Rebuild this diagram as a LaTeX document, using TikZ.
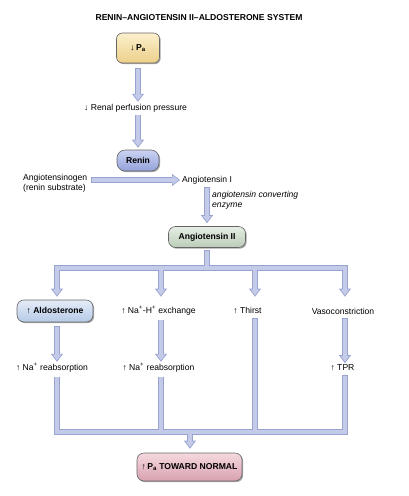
\documentclass[tikz,border=0pt]{standalone}
\usepackage{fontspec}
\setmainfont{Liberation Sans}
\usetikzlibrary{arrows.meta,calc,shadows}
\definecolor{pipefill}{HTML}{C3CBE9}
\definecolor{pipeline}{HTML}{98A3D2}
\definecolor{paT}{HTML}{FBEFCB}\definecolor{paB}{HTML}{EDD08A}
\definecolor{reT}{HTML}{CBD3F2}\definecolor{reB}{HTML}{93A2DA}
\definecolor{agT}{HTML}{E6EEE4}\definecolor{agB}{HTML}{BACCB8}
\definecolor{alT}{HTML}{E4ECF8}\definecolor{alB}{HTML}{B6CAE7}
\definecolor{fiT}{HTML}{F5D9DF}\definecolor{fiB}{HTML}{D8A0AF}
\newcommand\parrow[2]{%
  \draw[pipeo,->] #1 -- #2;
  \draw[pipei,shorten <=0.6pt,shorten >=7pt] #1 -- #2;}
\newcommand\myup{{\bfseries ↑}}
\newcommand\mydown{{\bfseries ↓}}
\begin{document}
\begin{tikzpicture}[x=1pt,y=-1pt,
  font=\fontsize{8.6}{9.8}\selectfont,
  >={Triangle[length=8pt,width=12pt,line width=0.7pt,fill=pipefill]},
  box/.style={draw=black!60,line width=0.6pt,rounded corners=6pt,
    font=\fontsize{8.6}{9.8}\selectfont\bfseries,inner sep=2pt,
    drop shadow={shadow xshift=1.2pt,shadow yshift=-1.2pt,opacity=0.35,fill=black}},
  txt/.style={inner sep=1pt},
  pipeo/.style={draw=pipeline,line width=6pt,line join=miter},
  pipei/.style={draw=pipefill,line width=4.4pt,line join=miter}]
\useasboundingbox (0,0) rectangle (409,496);
% title
\node[txt,font=\fontsize{8.6}{9.8}\selectfont\bfseries] (title) at (199,18) {RENIN–ANGIOTENSIN II–ALDOSTERONE SYSTEM};
% nodes
\node[box,top color=paT,bottom color=paB,minimum width=43pt,minimum height=30pt] (pa) at (138,48) {↓\,P\textsubscript{a}};
\node[txt,anchor=west] (rpp) at (83,108) {\mydown\ Renal perfusion pressure};
\node[box,top color=reT,bottom color=reB,minimum width=42pt,minimum height=21pt,rounded corners=8pt] (renin) at (138,160.5) {Renin};
\node[txt,anchor=north west,align=left] (agn) at (22,173.5) {Angiotensinogen\\(renin substrate)};
\node[txt,anchor=west] (ang1) at (181,180) {Angiotensin I};
\node[txt,anchor=north west,align=left,font=\fontsize{8.6}{9.8}\selectfont\itshape] (ace) at (211,190.5) {angiotensin converting\\enzyme};
\node[box,top color=agT,bottom color=agB,minimum width=77pt,minimum height=21pt,rounded corners=7pt] (ang2) at (207,237) {Angiotensin II};
\node[box,top color=alT,bottom color=alB,minimum width=76pt,minimum height=22pt,rounded corners=7pt] (aldo) at (55,311) {↑ Aldosterone};
\node[txt] (nah) at (158.5,311) {\myup\ Na\textsuperscript{+}-H\textsuperscript{+} exchange};
\node[txt] (thirst) at (247.5,311) {\myup\ Thirst};
\node[txt] (vaso) at (343,311) {Vasoconstriction};
\node[txt] (nar1) at (52,368) {\myup\ Na\textsuperscript{+} reabsorption};
\node[txt] (nar2) at (158.5,368) {\myup\ Na\textsuperscript{+} reabsorption};
\node[txt] (tpr) at (342.5,368) {\myup\ TPR};
\node[box,top color=fiT,bottom color=fiB,minimum width=105pt,minimum height=28pt,rounded corners=7pt] (fin) at (189.5,467) {↑\,P\textsubscript{a} TOWARD NORMAL};
% junction coordinates
\coordinate (j0) at (207,268);
\coordinate (c1) at (57,268);
\coordinate (c2) at (161,268);
\coordinate (c3) at (255,268);
\coordinate (c4) at (345,268);
\coordinate (b1) at (57,432);
\coordinate (b2) at (161,432);
\coordinate (b3) at (255,432);
\coordinate (b4) at (345,432);
\coordinate (bm) at (190,432);
% simple arrows
\parrow{($(pa.south)+(0,5)$)}{($(pa.south|-rpp.north)+(0,-1)$)}
\parrow{($(pa.south|-rpp.south)+(0,1.5)$)}{($(renin.north)+(0,-2)$)}
\parrow{($(agn.east|-ang1.west)+(3,0)$)}{($(ang1.west)+(-1,0)$)}
\parrow{($(ang1.south-|ang2.north)+(0,2)$)}{($(ang2.north)+(0,-3)$)}
\parrow{($(aldo.south-|c1)+(0,4)$)}{($(c1|-nar1.north)+(0,-0.5)$)}
\parrow{($(nah.south-|c2)+(0,3)$)}{($(c2|-nar2.north)+(0,-0.5)$)}
\parrow{($(vaso.south-|c4)+(0,3)$)}{($(c4|-tpr.north)+(0,-0.5)$)}
% top distribution tree: outlines
\draw[pipeo] ($(ang2.south)+(0,2.5)$) -- (j0);
\draw[pipeo,<->] ($(c1|-aldo.north)+(0,-3)$) -- (c1) -- (c4) -- ($(c4|-aldo.north)+(0,-3)$);
\draw[pipeo,->] (c2) -- ($(c2|-aldo.north)+(0,-3)$);
\draw[pipeo,->] (c3) -- ($(c3|-aldo.north)+(0,-3)$);
% top tree: fills
\draw[pipei,shorten <=0.6pt] ($(ang2.south)+(0,2.5)$) -- (j0);
\draw[pipei,shorten <=7pt,shorten >=7pt] ($(c1|-aldo.north)+(0,-3)$) -- (c1) -- (c4) -- ($(c4|-aldo.north)+(0,-3)$);
\draw[pipei,shorten >=7pt] (c2) -- ($(c2|-aldo.north)+(0,-3)$);
\draw[pipei,shorten >=7pt] (c3) -- ($(c3|-aldo.north)+(0,-3)$);
% bottom collecting tree: outlines
\draw[pipeo] ($(c1|-nar1.south)+(0,3)$) -- (b1) -- (b4) -- ($(c4|-tpr.south)+(0,3)$);
\draw[pipeo] ($(c2|-nar2.south)+(0,3)$) -- (b2);
\draw[pipeo] ($(c3|-thirst.south)+(0,3)$) -- (b3);
\draw[pipeo,->] (bm) -- ($(fin.north)+(0.5,-4)$);
% bottom tree: fills
\draw[pipei,shorten <=0.6pt,shorten >=0.6pt] ($(c1|-nar1.south)+(0,3)$) -- (b1) -- (b4) -- ($(c4|-tpr.south)+(0,3)$);
\draw[pipei,shorten <=0.6pt] ($(c2|-nar2.south)+(0,3)$) -- (b2);
\draw[pipei,shorten <=0.6pt] ($(c3|-thirst.south)+(0,3)$) -- (b3);
\draw[pipei,shorten >=7pt] (bm) -- ($(fin.north)+(0.5,-4)$);
\end{tikzpicture}
\end{document}
